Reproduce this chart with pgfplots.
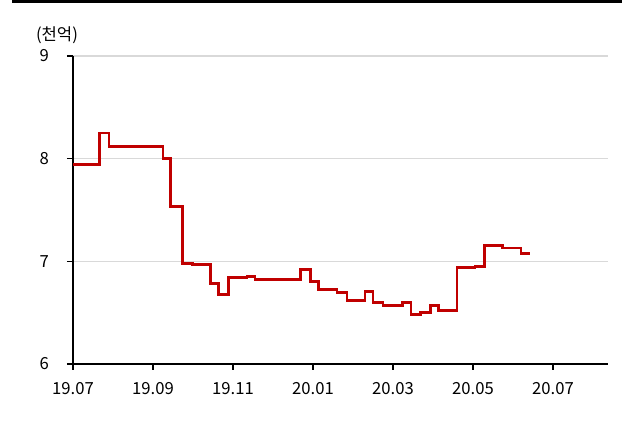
\documentclass[border=0pt]{standalone}
\usepackage{pgfplots}
\pgfplotsset{compat=1.18}
\usepackage{fontspec}
\setmainfont{Noto Sans CJK KR}
\definecolor{lred}{HTML}{C00000}
\definecolor{lgrid}{HTML}{D9D9D9}
\begin{document}
\begin{tikzpicture}
\useasboundingbox (-54.75pt,-47.25pt) rectangle (411.75pt,273pt);
\fill[black] (-45.75pt,270.75pt) rectangle (411.75pt,273pt);
\begin{axis}[
  at={(0,0)}, anchor=south west,
  scale only axis, width=401.25pt, height=231pt,
  xmin=0, xmax=13.375, ymin=6, ymax=9,
  axis x line*=bottom, axis y line*=left,
  axis line style={black, line width=0.8pt},
  xtick={0,2,4,6,8,10,12},
  xticklabels={19.07,19.09,19.11,20.01,20.03,20.05,20.07},
  ytick={6,7,8,9},
  tick style={black, line width=0.8pt},
  tick align=outside, major tick length=4.5pt,
  ymajorgrids, grid style={lgrid, line width=1.2pt},
  /pgf/number format/assume math mode=true,
  ticklabel style={font=\fontsize{12.5}{14}\selectfont},
  xticklabel style={yshift=-6pt},
  yticklabel style={xshift=-10pt},
  clip=false,
]
\addplot[const plot, lred, line width=2.2pt] coordinates {
(0,7.94) (0.66,8.25) (0.9,8.12) (2.25,8.0) (2.43,7.53) (2.73,6.98) (2.98,6.97)
(3.43,6.78) (3.63,6.68) (3.88,6.84) (4.35,6.85) (4.55,6.82) (5.68,6.92) (5.93,6.80)
(6.13,6.73) (6.6,6.70) (6.85,6.62) (7.3,6.71) (7.5,6.60) (7.75,6.57) (8.23,6.60)
(8.45,6.48) (8.68,6.50) (8.93,6.57) (9.13,6.52) (9.6,6.94) (10.05,6.95) (10.28,7.15)
(10.73,7.13) (11.2,7.08) (11.43,7.08)
};
\end{axis}
\node[font=\fontsize{12.5}{14}\selectfont] at (-12pt,246.75pt) {(천억)};
\end{tikzpicture}
\end{document}
